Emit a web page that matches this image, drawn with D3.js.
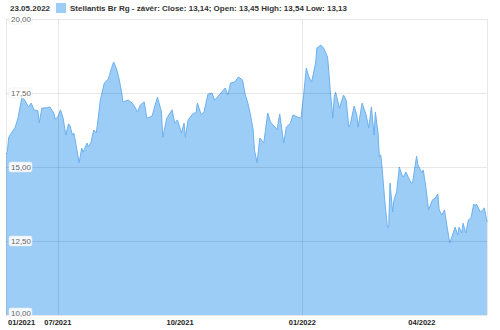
<!DOCTYPE html>
<html>
<head>
<meta charset="utf-8">
<script src="https://cdn.jsdelivr.net/npm/d3@7"></script>
<style>
  body { margin: 0; background: #fff; }
  svg { display: block; font-family: "Liberation Sans", Arial, sans-serif; }
</style>
</head>
<body>
<div id="chart"></div>
<script>
// chart size
const width = 500;
const height = 330;
const margin = { top: 19, right: 13, bottom: 15, left: 6 };

const headerDate = "23.05.2022";
const seriesLabel = "Stellantis Br Rg - závěr: Close: 13,14; Open: 13,45 High: 13,54 Low: 13,13";

const domainStart = "2021-05-23";
const domainEnd = "2022-05-20";

const yTicks = [10, 12.5, 15, 17.5, 20];
const yTickLabels = ["10,00", "12,50", "15,00", "17,50", "20,00"];

const xTickDates = ["2021-05-23", "2021-07-01", "2021-10-01", "2022-01-01", "2022-04-01"];
const xTickLabels = ["01/2021", "07/2021", "10/2021", "01/2022", "04/2022"];
const xGridDates = ["2021-07-01", "2022-01-01"];

const dates = [
  "2021-05-23", "2021-05-24", "2021-05-25", "2021-05-30", "2021-06-01", "2021-06-04",
  "2021-06-06", "2021-06-09", "2021-06-11", "2021-06-13", "2021-06-16", "2021-06-17",
  "2021-06-19", "2021-06-23", "2021-06-25", "2021-06-28", "2021-06-29", "2021-07-01",
  "2021-07-03", "2021-07-05", "2021-07-07", "2021-07-09", "2021-07-10", "2021-07-12",
  "2021-07-13", "2021-07-15", "2021-07-17", "2021-07-19", "2021-07-20", "2021-07-23",
  "2021-07-24", "2021-07-26", "2021-07-28", "2021-07-30", "2021-08-02", "2021-08-05",
  "2021-08-08", "2021-08-10", "2021-08-12", "2021-08-14", "2021-08-16", "2021-08-18",
  "2021-08-19", "2021-08-23", "2021-08-26", "2021-08-28", "2021-08-30", "2021-09-01",
  "2021-09-04", "2021-09-06", "2021-09-10", "2021-09-12", "2021-09-14", "2021-09-17",
  "2021-09-18", "2021-09-21", "2021-09-25", "2021-09-27", "2021-09-29", "2021-10-02",
  "2021-10-04", "2021-10-05", "2021-10-07", "2021-10-11", "2021-10-13", "2021-10-14",
  "2021-10-17", "2021-10-19", "2021-10-22", "2021-10-25", "2021-10-27", "2021-10-29",
  "2021-11-04", "2021-11-06", "2021-11-08", "2021-11-11", "2021-11-14", "2021-11-17",
  "2021-11-19", "2021-11-21", "2021-11-23", "2021-11-25", "2021-11-26", "2021-11-28",
  "2021-11-30", "2021-12-03", "2021-12-06", "2021-12-08", "2021-12-12", "2021-12-13",
  "2021-12-15", "2021-12-18", "2021-12-20", "2021-12-23", "2021-12-25", "2021-12-28",
  "2021-12-31", "2022-01-02", "2022-01-04", "2022-01-06", "2022-01-08", "2022-01-11",
  "2022-01-12", "2022-01-15", "2022-01-17", "2022-01-20", "2022-01-21", "2022-01-22",
  "2022-01-24", "2022-01-25", "2022-01-26", "2022-01-29", "2022-02-01", "2022-02-03",
  "2022-02-05", "2022-02-06", "2022-02-09", "2022-02-11", "2022-02-12", "2022-02-15",
  "2022-02-18", "2022-02-20", "2022-02-22", "2022-02-24", "2022-02-25", "2022-02-27",
  "2022-02-28", "2022-03-01", "2022-03-02", "2022-03-04", "2022-03-06", "2022-03-07",
  "2022-03-08", "2022-03-10", "2022-03-11", "2022-03-13", "2022-03-15", "2022-03-17",
  "2022-03-18", "2022-03-20", "2022-03-22", "2022-03-24", "2022-03-25", "2022-03-28",
  "2022-03-29", "2022-04-01", "2022-04-02", "2022-04-04", "2022-04-06", "2022-04-09",
  "2022-04-11", "2022-04-13", "2022-04-14", "2022-04-16", "2022-04-18", "2022-04-20",
  "2022-04-22", "2022-04-24", "2022-04-26", "2022-04-28", "2022-04-29", "2022-05-01",
  "2022-05-02", "2022-05-04", "2022-05-06", "2022-05-08", "2022-05-10", "2022-05-11",
  "2022-05-12", "2022-05-15", "2022-05-17", "2022-05-18", "2022-05-20"
];

const closes = [
  15.44, 15.5, 16.0, 16.35, 16.65, 17.36,
  17.26, 17.03, 17.16, 16.93, 16.9, 16.49,
  16.99, 17.0, 17.03, 16.82, 16.62, 16.69,
  16.93, 16.65, 16.08, 16.45, 16.42, 16.08,
  16.15, 15.68, 15.14, 15.64, 15.5, 15.81,
  15.68, 15.84, 16.25, 16.15, 17.26, 17.84,
  17.97, 18.28, 18.55, 18.34, 18.0, 17.53,
  17.2, 17.26, 17.16, 17.03, 16.86, 17.09,
  17.2, 16.65, 16.72, 17.06, 17.36, 16.86,
  16.0, 16.65, 16.93, 16.48, 16.59, 16.15,
  16.48, 16.0, 16.59, 16.82, 16.82, 17.16,
  16.76, 16.86, 17.46, 17.5, 17.26, 17.36,
  17.67, 17.43, 17.84, 17.87, 18.04, 17.94,
  17.46, 17.16, 16.76, 16.25, 15.57, 15.14,
  15.98, 15.81, 16.82, 16.52, 16.32, 16.25,
  16.79, 15.81, 16.35, 16.48, 16.76, 16.69,
  16.65, 17.43, 18.34, 18.04, 17.87, 18.51,
  19.02, 19.12, 19.02, 18.72, 18.2, 17.6,
  16.65, 17.36, 17.53, 16.99, 17.43, 17.26,
  16.35, 16.42, 17.06, 16.76, 16.35, 17.16,
  16.76, 16.32, 17.03, 16.08, 16.86, 16.15,
  15.34, 15.41, 15.0, 13.89, 12.97, 12.97,
  14.46, 13.48, 13.89, 14.16, 15.0, 14.73,
  14.66, 14.83, 14.63, 14.46, 14.46, 15.37,
  15.07, 14.8, 14.9, 14.32, 13.55, 13.89,
  13.95, 14.09, 13.55, 13.38, 13.55, 12.97,
  12.43, 12.7, 12.97, 12.7, 12.97, 12.77,
  13.1, 12.77, 13.21, 13.28, 13.75, 13.68,
  13.75, 13.48, 13.55, 13.62, 13.14
];

const parseDate = d3.timeParse("%Y-%m-%d");
const data = dates.map((d, i) => ({ date: parseDate(d), value: closes[i] }));

const x = d3.scaleTime()
  .domain([parseDate(domainStart), parseDate(domainEnd)])
  .range([margin.left, width - margin.right]);

const y = d3.scaleLinear()
  .domain([10, 20])
  .range([height - margin.bottom, margin.top]);

const svg = d3.select("#chart").append("svg")
  .attr("width", width)
  .attr("height", height);

// header
svg.append("text")
  .attr("x", 10)
  .attr("y", 11)
  .attr("font-size", 8)
  .attr("font-weight", "bold")
  .attr("fill", "#333")
  .text(headerDate);

svg.append("rect")
  .attr("x", 56)
  .attr("y", 3)
  .attr("width", 10)
  .attr("height", 10)
  .attr("fill", "#9ccdf7");

svg.append("text")
  .attr("x", 70)
  .attr("y", 11)
  .attr("font-size", 8)
  .attr("font-weight", "bold")
  .attr("fill", "#333")
  .text(seriesLabel);

// area
const area = d3.area()
  .x(d => x(d.date))
  .y0(y(10))
  .y1(d => y(d.value));

const line = d3.line()
  .x(d => x(d.date))
  .y(d => y(d.value));

svg.append("path")
  .datum(data)
  .attr("fill", "#9ccdf7")
  .attr("d", area);

svg.append("path")
  .datum(data)
  .attr("fill", "none")
  .attr("stroke", "#6db1ee")
  .attr("stroke-width", 1)
  .attr("d", line);

// grid on top of area
const grid = svg.append("g")
  .attr("stroke", "rgba(0,0,0,0.09)")
  .attr("shape-rendering", "crispEdges");

grid.selectAll("line.h")
  .data(yTicks)
  .enter().append("line")
  .attr("class", "h")
  .attr("x1", margin.left)
  .attr("x2", width - margin.right)
  .attr("y1", d => Math.round(y(d)) + 0.5)
  .attr("y2", d => Math.round(y(d)) + 0.5);

grid.selectAll("line.v")
  .data(xGridDates.map(parseDate).concat([parseDate(domainStart), parseDate(domainEnd)]))
  .enter().append("line")
  .attr("class", "v")
  .attr("x1", d => Math.round(x(d)) + 0.5)
  .attr("x2", d => Math.round(x(d)) + 0.5)
  .attr("y1", margin.top)
  .attr("y2", height - margin.bottom);

// y labels inside the plot with white boxes
const yLab = svg.append("g");
yTicks.forEach(function (t, i) {
  const cy = i === 0 ? y(t) - 2 : y(t);
  const g = yLab.append("g").attr("transform", `translate(9,${cy})`);
  g.append("rect")
    .attr("x", 0)
    .attr("y", -5)
    .attr("width", 23)
    .attr("height", 10)
    .attr("rx", 2)
    .attr("fill", "#fff")
    .attr("fill-opacity", 0.9)
    .attr("stroke", "#e4e4e4")
    .attr("stroke-width", 0.5);
  g.append("text")
    .attr("x", 2)
    .attr("y", 3)
    .attr("font-size", 8)
    .attr("fill", "#666")
    .text(yTickLabels[i]);
});

// x labels
svg.append("g").selectAll("text")
  .data(xTickDates)
  .enter().append("text")
  .attr("x", (d, i) => i === 0 ? 8 : x(parseDate(d)))
  .attr("y", 325)
  .attr("text-anchor", (d, i) => i === 0 ? "start" : "middle")
  .attr("font-size", 7.5)
  .attr("font-weight", "bold")
  .attr("fill", "#222")
  .text((d, i) => xTickLabels[i]);
</script>
</body>
</html>
